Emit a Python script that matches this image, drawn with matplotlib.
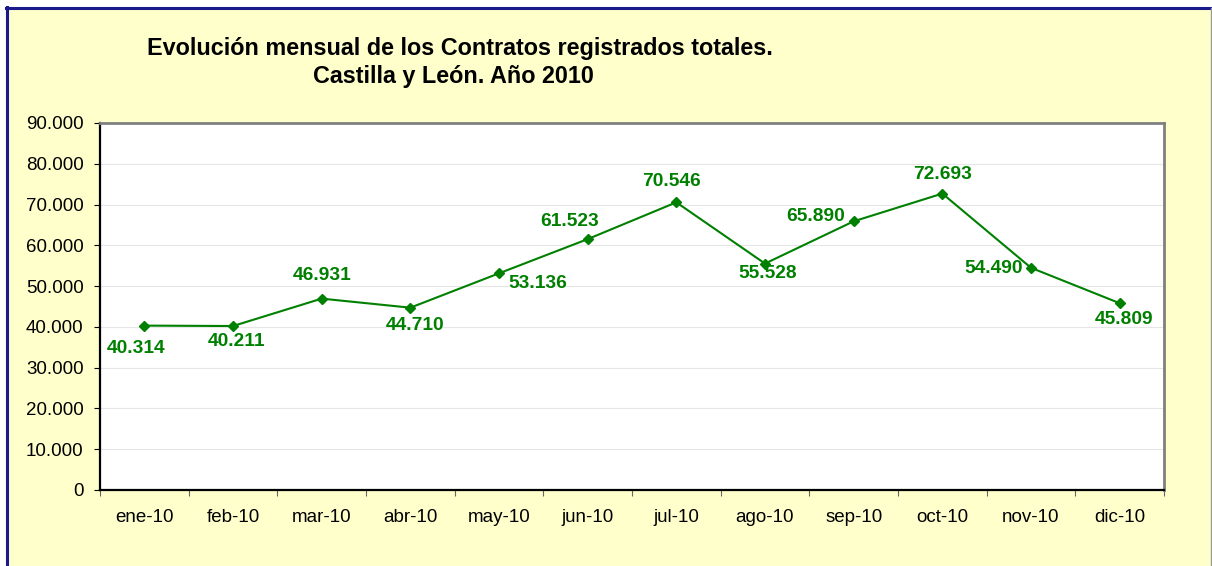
import matplotlib.pyplot as plt
from matplotlib.patches import Rectangle
from matplotlib.lines import Line2D
from matplotlib.ticker import FuncFormatter, FixedLocator

plt.rcParams['font.family'] = ['Liberation Sans', 'DejaVu Sans']

meses = ['ene-10', 'feb-10', 'mar-10', 'abr-10', 'may-10', 'jun-10',
         'jul-10', 'ago-10', 'sep-10', 'oct-10', 'nov-10', 'dic-10']
contratos = [40314, 40211, 46931, 44710, 53136, 61523,
             70546, 55528, 65890, 72693, 54490, 45809]
# desplazamiento de cada etiqueta respecto al punto (pixeles, y hacia arriba)
desplaz = [(-8, -23), (4, -15), (0, 23), (5, -18), (39, -10), (-18, 18),
           (-5, 21), (3, -10), (-38, 5), (0, 19), (-37, -1), (4, -16)]


def miles(v, pos):
    return f'{int(v):,}'.replace(',', '.')


fig = plt.figure(figsize=(12.12, 5.66), dpi=100)
fig.patch.set_facecolor('white')

# fondo amarillo con borde azul
W, H = 1212, 566
fig.patches.append(Rectangle((6 / W, -0.05), (1205 / W), 1.05 - 7.5 / H,
                             transform=fig.transFigure, facecolor='#FFFFCC',
                             edgecolor='none', zorder=-10))
fig.lines.append(Line2D([6.5 / W, 6.5 / W], [-0.05, 1 - 7 / H], transform=fig.transFigure,
                        color='#1A1A8C', lw=2.2, zorder=-5))
fig.lines.append(Line2D([6 / W, 1], [1 - 7.5 / H, 1 - 7.5 / H], transform=fig.transFigure,
                        color='#1A1A8C', lw=2.2, zorder=-5))
fig.lines.append(Line2D([1211 / W, 1211 / W], [-0.05, 1 - 7.5 / H], transform=fig.transFigure,
                        color='#999999', lw=1, zorder=-5))

ax = fig.add_axes([100 / W, 76 / H, 1064 / W, 367 / H])
ax.set_facecolor('white')

x = list(range(len(meses)))
ax.plot(x, contratos, color='#008000', lw=1.5, marker='D', markersize=5, zorder=3)

for xi, v, (dx, dy) in zip(x, contratos, desplaz):
    ax.annotate(miles(v, None), (xi, v), xytext=(dx, dy), textcoords='offset pixels',
                ha='center', va='center', color='#008000', fontsize=13.8,
                fontweight='bold', zorder=4)

ax.set_xlim(-0.5, len(meses) - 0.5)
ax.set_ylim(0, 90000)
ax.set_yticks(range(0, 90001, 10000))
ax.yaxis.set_major_formatter(FuncFormatter(miles))
ax.grid(axis='y', color='#E6E6E6', lw=0.8)
ax.set_axisbelow(True)

ax.xaxis.set_major_locator(FixedLocator([i - 0.5 for i in range(len(meses) + 1)]))
ax.xaxis.set_major_formatter(FuncFormatter(lambda v, p: ''))
ax.xaxis.set_minor_locator(FixedLocator(x))
ax.set_xticklabels(meses, minor=True)
ax.tick_params(axis='x', which='major', length=4.3, width=0.8, color='#666666')
ax.tick_params(axis='x', which='minor', length=0, pad=14, labelsize=13.5)
ax.tick_params(axis='y', length=4.3, width=0.8, labelsize=13.5, pad=7.5)

for s in ['left', 'bottom']:
    ax.spines[s].set_color('black')
    ax.spines[s].set_linewidth(1.6)
for s in ['top', 'right']:
    ax.spines[s].set_color('#808080')
    ax.spines[s].set_linewidth(2)

fig.text(460 / W, 1 - 55 / H, 'Evolución mensual de los Contratos registrados totales.',
         ha='center', va='baseline', fontsize=16.8, fontweight='bold')
fig.text(453 / W, 1 - 83 / H, 'Castilla y León. Año 2010',
         ha='center', va='baseline', fontsize=16.8, fontweight='bold')

fig.savefig('out.png', dpi=100)
